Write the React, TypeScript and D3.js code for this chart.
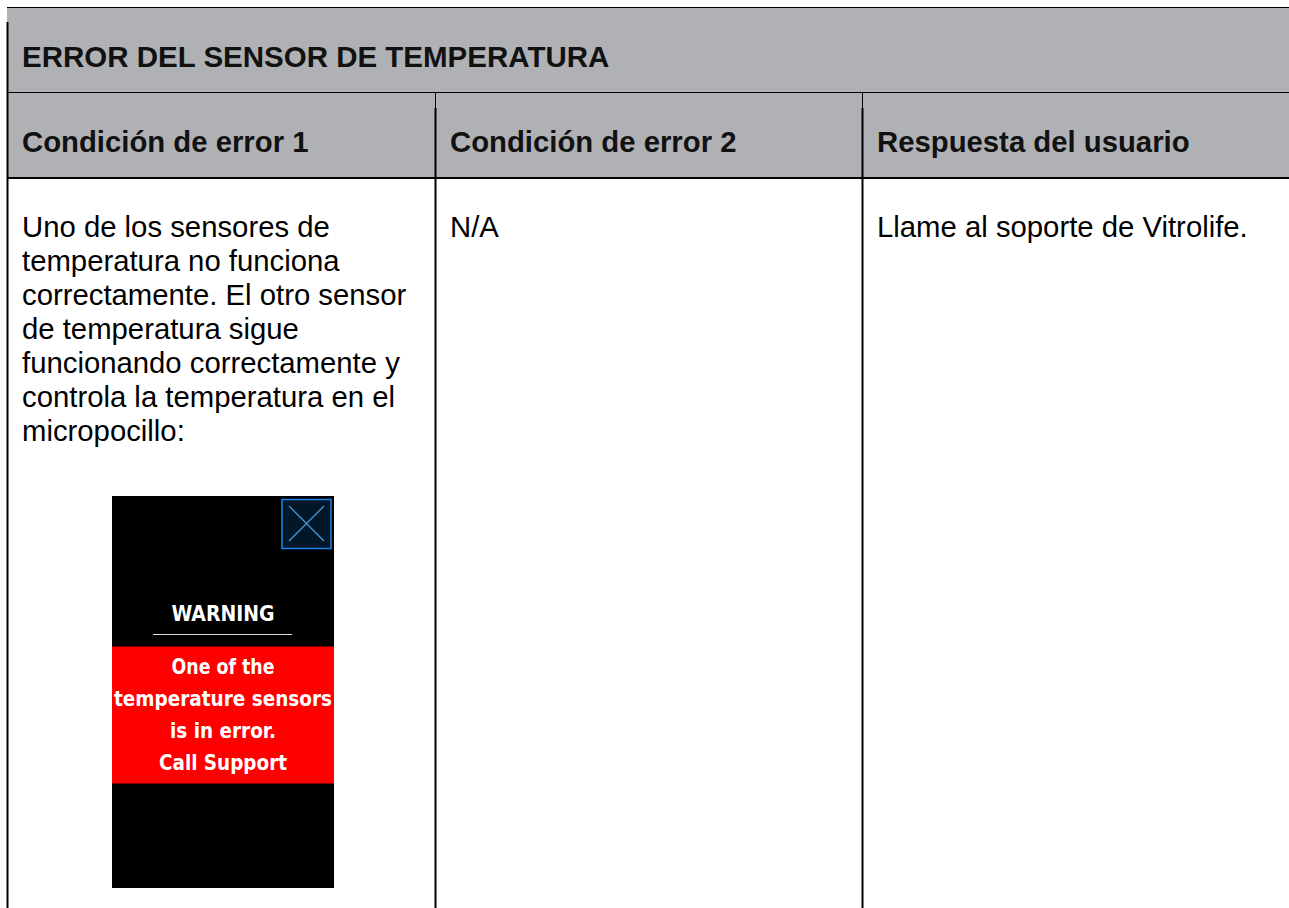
import React from 'react';
import * as d3 from 'd3';

// table content
const title = 'ERROR DEL SENSOR DE TEMPERATURA';
const headers = ['Condición de error 1', 'Condición de error 2', 'Respuesta del usuario'];
const col1Lines = [
  'Uno de los sensores de',
  'temperatura no funciona',
  'correctamente. El otro sensor',
  'de temperatura sigue',
  'funcionando correctamente y',
  'controla la temperatura en el',
  'micropocillo:',
];
const col2Lines = ['N/A'];
const col3Lines = ['Llame al soporte de Vitrolife.'];

// screen capture shown in the first cell
const warningTitle = 'WARNING';
const warningLines = ['One of the', 'temperature sensors', 'is in error.', 'Call Support'];

const W = 1289;
const H = 908;
const GRAY = '#b0b1b5';
const FONT = '"Liberation Sans", Arial, sans-serif';
const SCREEN_FONT = '"DejaVu Sans Condensed", "DejaVu Sans", sans-serif';

const App = () => {
  // column edges
  const colX = d3.scaleOrdinal<number, number>().domain([0, 1, 2, 3]).range([7, 435, 862, W + 2]);
  const pad = 15;

  // row edges
  const rowY = d3.scaleOrdinal<string, number>()
    .domain(['top', 'title', 'header', 'bottom'])
    .range([7, 92, 177, H + 2]);

  // text lines in body
  const lineY = d3.scaleLinear().domain([0, 1]).range([237, 271]);
  const bodyCols = [col1Lines, col2Lines, col3Lines];

  // screen image
  const scr = { x0: 112, x1: 334, y0: 496, y1: 888 };
  const scrCx = (scr.x0 + scr.x1) / 2;
  const warnY = d3.scaleLinear().domain([0, 1]).range([673.5, 705.5]);

  return (
    <svg
      width={W}
      height={H}
      style={{ position: 'absolute', left: 0, top: 0, background: '#fff' }}
    >
      {/* gray title + header band */}
      <rect x={colX(0)} y={rowY('top')} width={W - colX(0)} height={rowY('header') - rowY('top')} fill={GRAY} />

      {/* borders */}
      <line x1={colX(0)} x2={W} y1={rowY('top') + 0.5} y2={rowY('top') + 0.5} stroke="#000" strokeWidth={1} />
      <line x1={colX(0) + 0.5} x2={colX(0) + 0.5} y1={22} y2={H} stroke="#000" strokeWidth={2} />
      <line x1={colX(0)} x2={W} y1={rowY('title') + 0.5} y2={rowY('title') + 0.5} stroke="#000" strokeWidth={1} />
      <line x1={colX(0)} x2={W} y1={rowY('header') + 1} y2={rowY('header') + 1} stroke="#000" strokeWidth={2} />
      {[1, 2].map(i => (
        <g key={i}>
          <line x1={colX(i) + 0.5} x2={colX(i) + 0.5} y1={rowY('title')} y2={108} stroke="#000" strokeWidth={1} />
          <line x1={colX(i) + 0.5} x2={colX(i) + 0.5} y1={108} y2={H} stroke="#000" strokeWidth={2} />
        </g>
      ))}

      {/* title */}
      <text x={colX(0) + pad} y={67} fontFamily={FONT} fontWeight="bold" fontSize={29.5} fill="#111">
        {title}
      </text>

      {/* headers */}
      {headers.map((h, i) => (
        <text key={h} x={colX(i) + pad} y={151.5} fontFamily={FONT} fontWeight="bold" fontSize={29.3} fill="#111">
          {h}
        </text>
      ))}

      {/* body text */}
      {bodyCols.map((lines, c) =>
        lines.map((t, i) => (
          <text key={c + '-' + i} x={colX(c) + pad} y={lineY(i)} fontFamily={FONT} fontSize={29.3} fill="#000">
            {t}
          </text>
        ))
      )}

      {/* warning screen */}
      <rect x={scr.x0} y={scr.y0} width={scr.x1 - scr.x0} height={scr.y1 - scr.y0} fill="#000" />
      <rect x={282} y={499.5} width={49} height={49} fill="#021727" stroke="#1a86e8" strokeWidth={1.5} />
      <line x1={289} y1={506} x2={324} y2={541} stroke="#4a9ee0" strokeWidth={1.2} />
      <line x1={324} y1={506} x2={289} y2={541} stroke="#4a9ee0" strokeWidth={1.2} />
      <text
        x={scrCx}
        y={620.5}
        textAnchor="middle"
        fontFamily={SCREEN_FONT}
        fontWeight="bold"
        fontSize={21}
        fill="#fff"
        textLength={103}
        lengthAdjust="spacingAndGlyphs"
      >
        {warningTitle}
      </text>
      <line x1={153} x2={292} y1={634.5} y2={634.5} stroke="#ddd" strokeWidth={1} />
      <rect x={scr.x0} y={646.5} width={scr.x1 - scr.x0} height={137} fill="#ff0000" />
      {warningLines.map((t, i) => (
        <text
          key={t}
          x={scrCx}
          y={warnY(i)}
          textAnchor="middle"
          fontFamily={SCREEN_FONT}
          fontWeight="bold"
          fontSize={21}
          fill="#fff"
          textLength={[103, 218, 106, 128][i]}
          lengthAdjust="spacingAndGlyphs"
        >
          {t}
        </text>
      ))}
    </svg>
  );
};

export default App;
